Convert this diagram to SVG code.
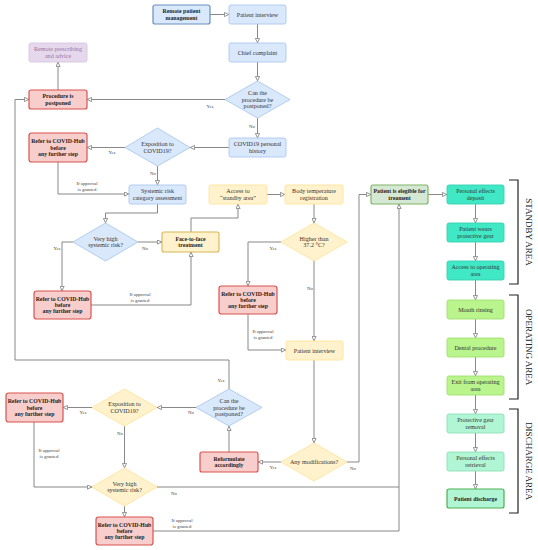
<svg xmlns="http://www.w3.org/2000/svg" width="538" height="550" viewBox="0 0 538 550">
<style>
text{font-family:"Liberation Serif","DejaVu Serif",serif;fill:#333;text-anchor:middle}
.t{font-size:6.1px}
.b{font-size:5.8px;font-weight:bold;fill:#222}
.l{font-size:4.8px;fill:#444}
.area{font-size:9px;fill:#222}
.blue{fill:#dae8fc;stroke:#a9c8ee;stroke-width:0.9}
.blued{fill:#dae8fc;stroke:#6c8ebf;stroke-width:1.2}
.red{fill:#f8cecc;stroke:#d9534f;stroke-width:1.2}
.pur{fill:#e6d8ec;stroke:#d9c6e2;stroke-width:0.9}
.yel{fill:#fff2cc;stroke:#ffe39a;stroke-width:0.9}
.yeld{fill:#fff2cc;stroke:#d6b656;stroke-width:1.1}
.elig{fill:#d5e8d4;stroke:#82b366;stroke-width:1.2}
.teal{fill:#40e8c6;stroke:#36d0b0;stroke-width:0.9}
.lg{fill:#b9f48c;stroke:#a2e06f;stroke-width:0.9}
.mint{fill:#b0f5d4;stroke:#8fe0b8;stroke-width:0.9}
.mintd{fill:#b0f5d4;stroke:#4caf50;stroke-width:1.2}
.c path{fill:none;stroke:#7a7a7a;stroke-width:0.9;marker-end:url(#a)}
.br{fill:none;stroke:#222;stroke-width:1.2}
</style>
<defs>
<marker id="a" viewBox="0 0 10 10" refX="10" refY="5" markerWidth="5" markerHeight="5" markerUnits="userSpaceOnUse" orient="auto">
<path d="M0.8,0.8 L9.5,5 L0.8,9.2 z" fill="#fff" stroke="#7a7a7a" stroke-width="1.6"/>
</marker>
</defs>
<rect width="538" height="550" fill="#fff"/>

<g class="c" id="connectors">
<path d="M210,14.5 H229"/>
<path d="M257.5,24 V43"/>
<path d="M257.5,62 V81"/>
<path d="M225,99.5 H87"/>
<path d="M58,90 V62"/>
<path d="M257.5,118 V138"/>
<path d="M229,147.5 H190"/>
<path d="M125,147.5 H87"/>
<path d="M157.5,166 V185"/>
<path d="M58,162 V194 H129"/>
<path d="M157.5,204 V213 H105.5 V223"/>
<path d="M73,242 H62 V291"/>
<path d="M138,242 H162"/>
<path d="M91,305 H191 V252"/>
<path d="M191,232 V218 H238 V204"/>
<path d="M267,194.5 H285"/>
<path d="M314,204 V223"/>
<path d="M281,242 H248 V286"/>
<path d="M314,261 V341"/>
<path d="M248,314 V350 H286"/>
<path d="M314,359 V443"/>
<path d="M281,462 H258"/>
<path d="M229,452 V426"/>
<path d="M229,389 V360 H15 V99.5 H29"/>
<path d="M196,407.5 H157"/>
<path d="M92,407.5 H63"/>
<path d="M124.5,426 V468"/>
<path d="M34,422 V487 H92"/>
<path d="M124.5,506 V517"/>
<path d="M157,487 H399 V204"/>
<path d="M153,531 H399 V487" style="marker-end:none"/>
<path d="M347,462 H359 V194.5 H371"/>
<path d="M428,194.5 H447"/>
<path d="M475.5,204 V223"/>
<path d="M475.5,242 V261"/>
<path d="M475.5,280 V300"/>
<path d="M475.5,319 V338"/>
<path d="M475.5,357 V376"/>
<path d="M475.5,395 V414"/>
<path d="M475.5,433 V452"/>
<path d="M475.5,471 V489"/>
</g>

<g id="edge-labels">
<text class="l" x="210" y="107.5">Yes</text>
<text class="l" x="252" y="127.5">No</text>
<text class="l" x="112" y="153.5">Yes</text>
<text class="l" x="153" y="174.5">No</text>
<text class="l" x="87" y="184.5">If approval</text>
<text class="l" x="87" y="190.5">is granted</text>
<text class="l" x="57" y="249.5">Yes</text>
<text class="l" x="145" y="249.5">No</text>
<text class="l" x="140" y="295.5">If approval</text>
<text class="l" x="140" y="301.5">is granted</text>
<text class="l" x="273" y="249.5">Yes</text>
<text class="l" x="310" y="289.5">No</text>
<text class="l" x="263" y="332.5">If approval</text>
<text class="l" x="263" y="338.5">is granted</text>
<text class="l" x="221" y="381.5">Yes</text>
<text class="l" x="191" y="413.5">No</text>
<text class="l" x="83" y="413.5">Yes</text>
<text class="l" x="120" y="434.5">No</text>
<text class="l" x="49" y="451.5">If approval</text>
<text class="l" x="49" y="457.5">is granted</text>
<text class="l" x="174" y="494.5">No</text>
<text class="l" x="182" y="522">If approval</text>
<text class="l" x="182" y="528">is granted</text>
<text class="l" x="273" y="468.5">Yes</text>
<text class="l" x="353" y="469.5">No</text>
</g>

<g id="remote-mgmt"><rect class="blued" x="153" y="5" width="57" height="19" rx="2"/><text class="b" x="181.5" y="13.25">Remote patient</text><text class="b" x="181.5" y="19.75">management</text></g>
<g id="interview1"><rect class="blue" x="229" y="5" width="57" height="19" rx="2"/><text class="t" x="257.5" y="16.5">Patient interview</text></g>
<g id="chief"><rect class="blue" x="229" y="43" width="57" height="19" rx="2"/><text class="t" x="257.5" y="54.5">Chief complaint</text></g>
<g id="postpone1"><polygon class="blue" points="225,99.5 257.5,81 290,99.5 257.5,118"/><text class="t" x="257.5" y="95.3">Can the</text><text class="t" x="257.5" y="101.5">procedure be</text><text class="t" x="257.5" y="107.7">postponed?</text></g>
<g id="postponed"><rect class="red" x="29" y="90" width="58" height="19" rx="2"/><text class="b" x="58" y="98.25">Procedure is</text><text class="b" x="58" y="104.75">postponed</text></g>
<g id="prescribing"><rect class="pur" x="29" y="43" width="58" height="19" rx="2"/><text class="t" x="58" y="51.25" style="fill:#9673a6">Remote prescribing</text><text class="t" x="58" y="57.75" style="fill:#9673a6">and advice</text></g>
<g id="history"><rect class="blue" x="229" y="138" width="57" height="19" rx="2"/><text class="t" x="257.5" y="146.25">COVID19 personal</text><text class="t" x="257.5" y="152.75">history</text></g>
<g id="exposition1"><polygon class="blue" points="125,147.5 157.5,128 190,147.5 157.5,166"/><text class="t" x="157.5" y="146.25">Exposition to</text><text class="t" x="157.5" y="152.75">COVID19?</text></g>
<g id="refer1"><rect class="red" x="29" y="133" width="58" height="29" rx="2.5"/><text class="b" x="58" y="143.3">Refer to COVID-Hub</text><text class="b" x="58" y="149.5">before</text><text class="b" x="58" y="155.7">any further step</text></g>
<g id="systemic"><rect class="blue" x="129" y="185" width="57" height="19" rx="2"/><text class="t" x="157.5" y="193.25">Systemic risk</text><text class="t" x="157.5" y="199.75">category assessment</text></g>
<g id="veryhigh1"><polygon class="blue" points="73,242 105.5,223 138,242 105.5,261"/><text class="t" x="105.5" y="240.75">Very high</text><text class="t" x="105.5" y="247.25">systemic risk?</text></g>
<g id="refer2"><rect class="red" x="34" y="291" width="57" height="28" rx="2.5"/><text class="b" x="62.5" y="300.8">Refer to COVID-Hub</text><text class="b" x="62.5" y="307">before</text><text class="b" x="62.5" y="313.2">any further step</text></g>
<g id="face"><rect class="yeld" x="162" y="232" width="57" height="20" rx="2"/><text class="b" x="190.5" y="240.75">Face-to-face</text><text class="b" x="190.5" y="247.25">treatment</text></g>
<g id="access-standby"><rect class="yel" x="209" y="185" width="58" height="19" rx="2"/><text class="t" x="238" y="193.25">Access to</text><text class="t" x="238" y="199.75">“standby area”</text></g>
<g id="bodytemp"><rect class="yel" x="285" y="185" width="58" height="19" rx="2"/><text class="t" x="314" y="193.25">Body temperature</text><text class="t" x="314" y="199.75">registration</text></g>
<g id="higher"><polygon class="yel" points="281,242 314,223 347,242 314,261"/><text class="t" x="314" y="240.75">Higher than</text><text class="t" x="314" y="247.25">37.2 °C?</text></g>
<g id="refer3"><rect class="red" x="219" y="286" width="58" height="28" rx="2.5"/><text class="b" x="248" y="295.8">Refer to COVID-Hub</text><text class="b" x="248" y="302">before</text><text class="b" x="248" y="308.2">any further step</text></g>
<g id="interview2"><rect class="yel" x="286" y="341" width="57" height="19" rx="2"/><text class="t" x="314.5" y="352.5">Patient interview</text></g>
<g id="anymod"><polygon class="yel" points="281,462 314,443 347,462 314,481"/><text class="t" x="314" y="464">Any modifications?</text></g>
<g id="reformulate"><rect class="red" x="200" y="452" width="58" height="20" rx="2"/><text class="b" x="229" y="460.75">Reformulate</text><text class="b" x="229" y="467.25">accordingly</text></g>
<g id="postpone2"><polygon class="blue" points="196,407.5 229,389 262,407.5 229,426"/><text class="t" x="229" y="403.3">Can the</text><text class="t" x="229" y="409.5">procedure be</text><text class="t" x="229" y="415.7">postponed?</text></g>
<g id="exposition2"><polygon class="yel" points="92,407.5 124.5,389 157,407.5 124.5,426"/><text class="t" x="124.5" y="406.25">Exposition to</text><text class="t" x="124.5" y="412.75">COVID19?</text></g>
<g id="refer4"><rect class="red" x="6" y="393" width="57" height="29" rx="2.5"/><text class="b" x="34.5" y="403.3">Refer to COVID-Hub</text><text class="b" x="34.5" y="409.5">before</text><text class="b" x="34.5" y="415.7">any further step</text></g>
<g id="veryhigh2"><polygon class="yel" points="92,487 124.5,468 157,487 124.5,506"/><text class="t" x="124.5" y="485.75">Very high</text><text class="t" x="124.5" y="492.25">systemic risk?</text></g>
<g id="refer5"><rect class="red" x="96" y="517" width="57" height="28" rx="2.5"/><text class="b" x="124.5" y="526.8">Refer to COVID-Hub</text><text class="b" x="124.5" y="533">before</text><text class="b" x="124.5" y="539.2">any further step</text></g>
<g id="eligible"><rect class="elig" x="371" y="185" width="57" height="19" rx="2"/><text class="b" x="399.5" y="193.25">Patient is elegible for</text><text class="b" x="399.5" y="199.75">treament</text></g>
<g id="deposit"><rect class="teal" x="447" y="185" width="57" height="19" rx="2"/><text class="t" x="475.5" y="193.25">Personal effects</text><text class="t" x="475.5" y="199.75">deposit</text></g>
<g id="wears"><rect class="teal" x="447" y="223" width="57" height="19" rx="2"/><text class="t" x="475.5" y="231.25">Patient wears</text><text class="t" x="475.5" y="237.75">protective gear</text></g>
<g id="access-op"><rect class="teal" x="447" y="261" width="57" height="19" rx="2"/><text class="t" x="475.5" y="269.25">Access to operating</text><text class="t" x="475.5" y="275.75">area</text></g>
<g id="rinsing"><rect class="lg" x="447" y="300" width="57" height="19" rx="2"/><text class="t" x="475.5" y="311.5">Mouth rinsing</text></g>
<g id="dental"><rect class="lg" x="447" y="338" width="57" height="19" rx="2"/><text class="t" x="475.5" y="349.5">Dental procedure</text></g>
<g id="exit"><rect class="lg" x="447" y="376" width="57" height="19" rx="2"/><text class="t" x="475.5" y="384.25">Exit from operating</text><text class="t" x="475.5" y="390.75">area</text></g>
<g id="removal"><rect class="mint" x="447" y="414" width="57" height="19" rx="2"/><text class="t" x="475.5" y="422.25">Protective gear</text><text class="t" x="475.5" y="428.75">removal</text></g>
<g id="retrieval"><rect class="mint" x="447" y="452" width="57" height="19" rx="2"/><text class="t" x="475.5" y="460.25">Personal effects</text><text class="t" x="475.5" y="466.75">retrieval</text></g>
<g id="discharge"><rect class="mintd" x="447" y="489" width="57" height="19" rx="2"/><text class="b" x="475.5" y="500.5">Patient discharge</text></g>

<g id="areas">
<path class="br" d="M509,180 H518 V284 H509"/>
<path class="br" d="M509,295 H518 V399 H509"/>
<path class="br" d="M509,409 H518 V513 H509"/>
<text class="area" transform="translate(526,232) rotate(90)">STANDBY AREA</text>
<text class="area" transform="translate(526,347) rotate(90)">OPERATING AREA</text>
<text class="area" transform="translate(526,461) rotate(90)">DISCHARGE AREA</text>
</g>
</svg>
